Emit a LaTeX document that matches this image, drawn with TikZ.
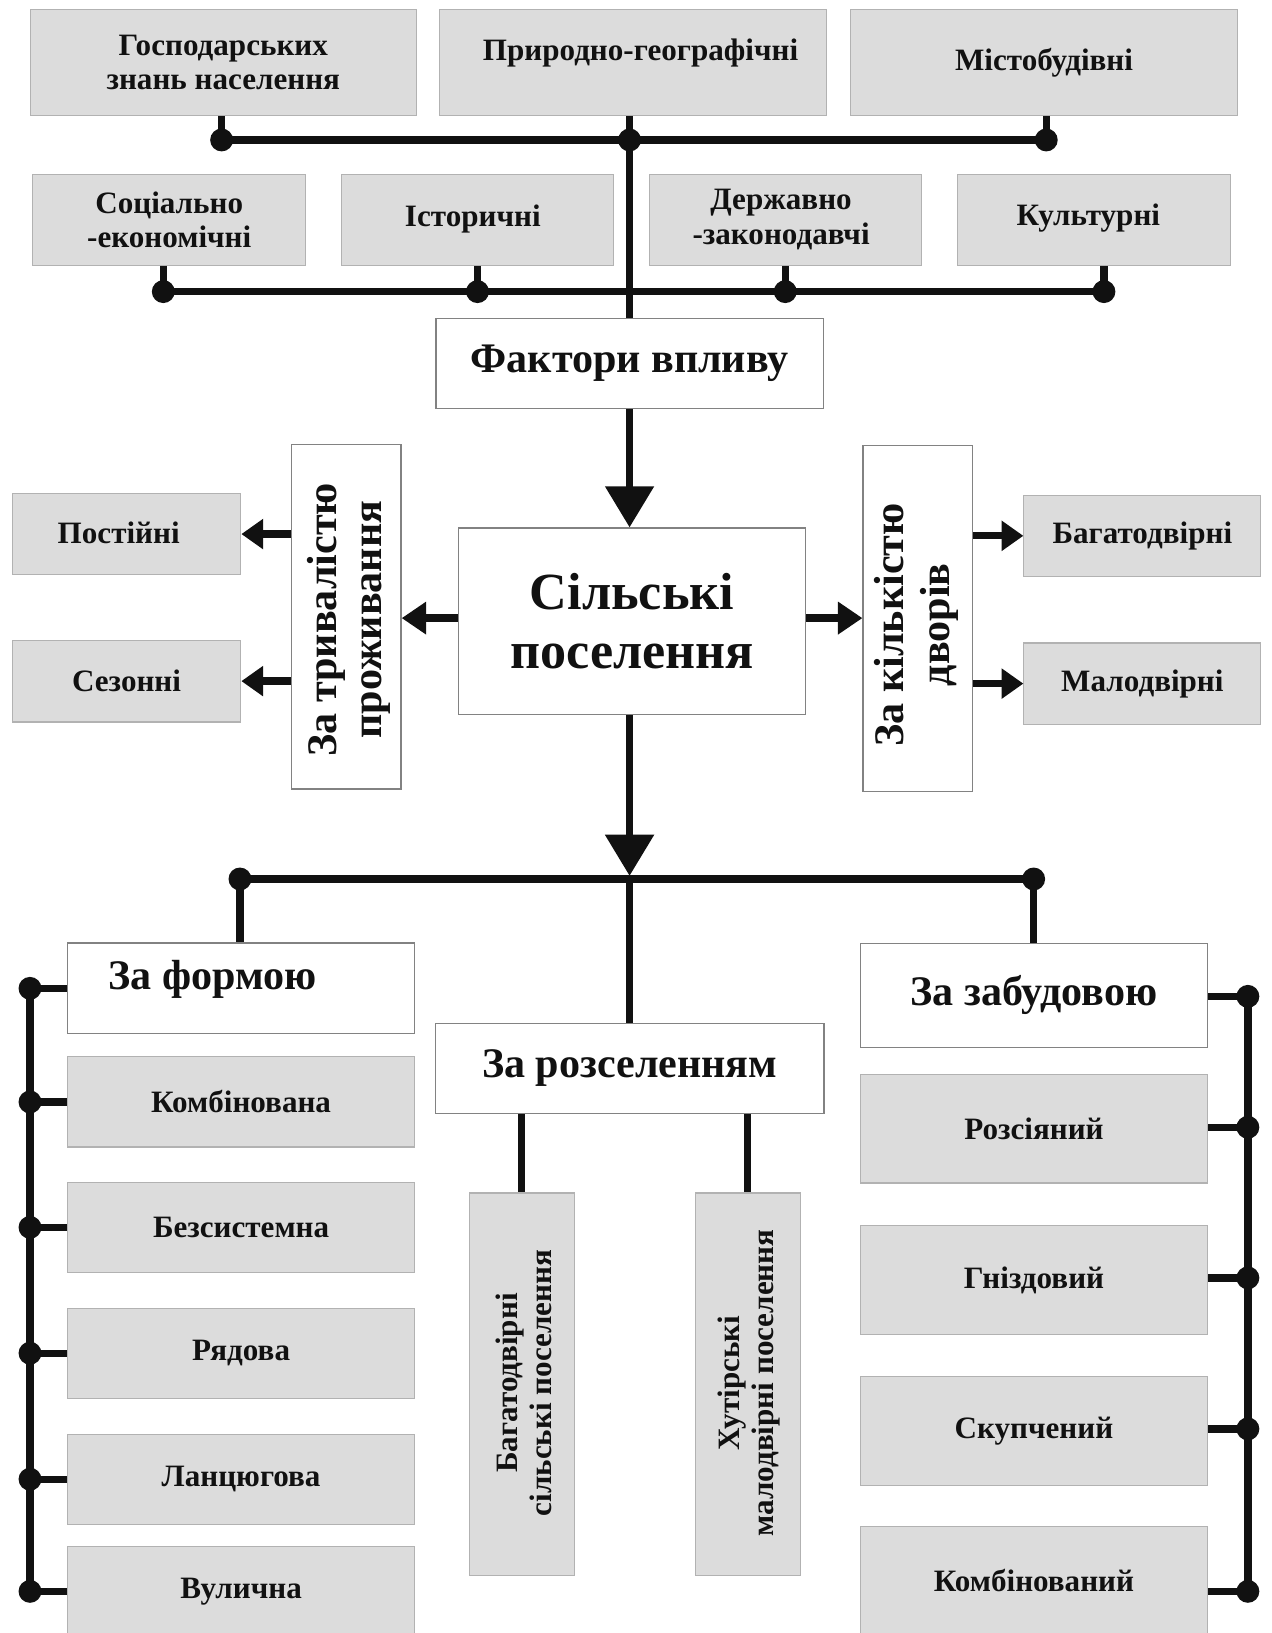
\documentclass[tikz,border=0pt]{standalone}
\usepackage{fontspec}
\setmainfont{Liberation Serif}
\usetikzlibrary{arrows.meta}
\definecolor{boxgray}{RGB}{220,220,220}
\definecolor{edgegray}{RGB}{178,178,178}
\definecolor{wedge}{RGB}{130,130,130}
\definecolor{ink}{RGB}{17,17,17}
\tikzset{
  gbox/.style={draw=edgegray, fill=boxgray, line width=0.6pt, inner sep=0pt, align=center, text=ink,
    font=\bfseries\fontsize{17}{19}\selectfont},
  wbox/.style={draw=wedge, fill=white, line width=0.7pt, inner sep=0pt, align=center, text=ink},
  gtext/.style={inner sep=0pt, align=center, text=ink, font=\bfseries\fontsize{17}{19}\selectfont},
  bigtext/.style={inner sep=0pt, align=center, text=ink, font=\bfseries\fontsize{23}{26}\selectfont},
  vtext/.style={inner sep=0pt, align=center, text=ink, rotate=90, font=\bfseries\fontsize{23}{25}\selectfont},
  vsmall/.style={inner sep=0pt, align=center, text=ink, rotate=90, font=\bfseries\fontsize{17}{18.5}\selectfont},
  lowgray/.style={gbox, font=\bfseries\fontsize{17}{19}\selectfont},
  conn/.style={draw=ink, line width=4pt},
  dot/.style={circle, fill=ink, inner sep=0pt, minimum size=0.44cm},
  bigarrow/.style={conn, -{Triangle[width=0.91cm, length=0.79cm]}},
  midarrow/.style={conn, -{Triangle[width=0.6cm, length=0.47cm]}},
  smallarrow/.style={conn, -{Triangle[width=0.56cm, length=0.42cm]}},
}
\begin{document}
\begin{tikzpicture}[x=0.02cm, y=-0.02cm]
\useasboundingbox (0,0) rectangle (1221,1568);
\clip (0,0) rectangle (1221,1568);

% ---------- top row of factors ----------
\node[gbox, minimum width=7.42cm, minimum height=2.04cm] (gosp) at (214.4,60) {Господарських\\знань населення};
\node[gbox, minimum width=7.43cm, minimum height=2.04cm] (pryr) at (608,60) {};
\node[gtext] (pryrT) at (615,51) {Природно-географічні};
\node[gbox, minimum width=7.42cm, minimum height=2.04cm] (misto) at (1002.5,60) {Містобудівні};

\node[gbox, minimum width=5.25cm, minimum height=1.75cm] (soc) at (162.5,211) {Соціально\\-економічні};
\node[gbox, minimum width=5.23cm, minimum height=1.75cm] (ist) at (458.3,211) {};
\node[gtext] (istT) at (454,210) {Історичні};
\node[gbox, minimum width=5.23cm, minimum height=1.75cm] (derzh) at (754.3,211) {};
\node[gtext] (derzhT) at (750,211) {Державно\\-законодавчі};
\node[gbox, minimum width=5.24cm, minimum height=1.75cm] (kult) at (1050.4,211) {};
\node[gtext] (kultT) at (1045,209) {Культурні};

% ---------- central boxes ----------
\node[wbox, minimum width=7.44cm, minimum height=1.74cm, font=\bfseries\fontsize{23}{26}\selectfont] (fak) at (604.5,349) {Фактори впливу};
\node[wbox, minimum width=6.67cm, minimum height=3.58cm, font=\bfseries\fontsize{28.5}{32}\selectfont] (sil) at (606.9,596.5) {Сільські\\поселення};

% ---------- bus 1 ----------
\node[dot] (d11) at (212.8,134.4) {};
\node[dot] (d12) at (604.5,134.4) {};
\node[dot] (d13) at (1004.6,134.4) {};
\draw[conn] (d11.center) -- (d13.center);
\draw[conn] (gosp.south -| d11) -- (d11.center);
\draw[conn] (misto.south -| d13) -- (d13.center);
\draw[conn] (pryr.south -| d12) -- (fak.north -| d12);

% ---------- bus 2 ----------
\node[dot] (d21) at (156.8,280) {};
\node[dot] (d22) at (458.5,280) {};
\node[dot] (d23) at (754,280) {};
\node[dot] (d24) at (1060,280) {};
\draw[conn] (d21.center) -- (d24.center);
\draw[conn] (soc.south -| d21) -- (d21.center);
\draw[conn] (ist.south -| d22) -- (d22.center);
\draw[conn] (derzh.south -| d23) -- (d23.center);
\draw[conn] (kult.south -| d24) -- (d24.center);

% ---------- arrow to settlements ----------
\draw[bigarrow] (fak.south -| d12) -- (sil.north -| d12);

% ---------- side branches ----------
\node[wbox, minimum width=2.10cm, minimum height=6.62cm] (tryv) at (332.6,592) {};
\node[vtext] (tryvT) at (335,595) {За тривалістю\\проживання};
\node[wbox, minimum width=2.10cm, minimum height=6.64cm] (kilk) at (881.2,594) {};
\node[vtext] (kilkT) at (880,600) {За кількістю\\дворів};

\node[gbox, minimum width=4.39cm, minimum height=1.55cm] (post) at (121.5,512.8) {};
\node[gtext] (postT) at (114,512) {Постійні};
\node[gbox, minimum width=4.39cm, minimum height=1.57cm] (sez) at (121.5,654) {Сезонні};
\node[gbox, minimum width=4.55cm, minimum height=1.56cm] (bagR) at (1096.9,514.5) {Багатодвірні};
\node[gbox, minimum width=4.55cm, minimum height=1.56cm] (malR) at (1096.9,656.4) {Малодвірні};

\coordinate (midL) at (440,593.5);
\coordinate (midR) at (773.7,593.5);
\draw[midarrow] (sil.west |- midL) -- (tryv.east |- midL);
\draw[midarrow] (sil.east |- midR) -- (kilk.west |- midR);
\draw[smallarrow] (tryv.west |- post) -- (post.east);
\draw[smallarrow] (tryv.west |- sez) -- (sez.east);
\draw[smallarrow] (kilk.east |- bagR) -- (bagR.west);
\draw[smallarrow] (kilk.east |- malR) -- (malR.west);

% ---------- lower part ----------
\coordinate (j) at (604.5,844);
\coordinate (jtip) at (604.5,841);
\draw[bigarrow] (sil.south -| j) -- (jtip);
\node[dot] (d31) at (230.4,844) {};
\node[dot] (d32) at (992.5,844) {};
\draw[conn] (d31.center) -- (d32.center);

\node[wbox, minimum width=6.66cm, minimum height=1.74cm] (forma) at (231.5,949) {};
\node[bigtext, anchor=base west] (formaT) at (104,949.7) {За формою};
\node[wbox, minimum width=7.46cm, minimum height=1.74cm, font=\bfseries\fontsize{23}{26}\selectfont] (rozs) at (604.6,1025.9) {За розселенням};
\node[wbox, minimum width=6.67cm, minimum height=2.00cm, font=\bfseries\fontsize{23}{26}\selectfont] (zab) at (992.8,955.6) {За забудовою};

\draw[conn] (d31.center) -- (forma.north -| d31);
\draw[conn] (d32.center) -- (zab.north -| d32);
\draw[conn] (j) -- (rozs.north -| j);

% left column
\node[lowgray, minimum width=6.66cm, minimum height=1.73cm] (f1) at (231.5,1058.1) {Комбінована};
\node[lowgray, minimum width=6.66cm, minimum height=1.73cm] (f2) at (231.5,1178.5) {Безсистемна};
\node[lowgray, minimum width=6.66cm, minimum height=1.73cm] (f3) at (231.5,1299.3) {Рядова};
\node[lowgray, minimum width=6.66cm, minimum height=1.73cm] (f4) at (231.5,1420.3) {Ланцюгова};
\node[lowgray, minimum width=6.66cm, minimum height=1.73cm] (f5) at (231.5,1528) {Вулична};

\node[dot] (lf0) at (28.8,949) {};
\node[dot] (lf1) at (28.8,1058.1) {};
\node[dot] (lf2) at (28.8,1178.5) {};
\node[dot] (lf3) at (28.8,1299.3) {};
\node[dot] (lf4) at (28.8,1420.3) {};
\node[dot] (lf5) at (28.8,1528) {};
\draw[conn] (lf0.center) -- (lf5.center);
\draw[conn] (lf0.center) -- (forma.west |- lf0);
\draw[conn] (lf1.center) -- (f1.west |- lf1);
\draw[conn] (lf2.center) -- (f2.west |- lf2);
\draw[conn] (lf3.center) -- (f3.west |- lf3);
\draw[conn] (lf4.center) -- (f4.west |- lf4);
\draw[conn] (lf5.center) -- (f5.west |- lf5);

% middle column
\node[gbox, minimum width=2.02cm, minimum height=7.35cm] (bag2) at (500.9,1329.2) {};
\node[vsmall] (bag2T) at (503,1328) {Багатодвірні\\сільські поселення};
\node[gbox, minimum width=2.01cm, minimum height=7.35cm] (khut) at (718,1329.2) {};
\node[vsmall] (khutT) at (719,1328) {Хутірські\\малодвірні поселення};
\draw[conn] (rozs.south -| bag2) -- (bag2.north);
\draw[conn] (rozs.south -| khut) -- (khut.north);

% right column
\node[lowgray, minimum width=6.67cm, minimum height=2.08cm] (z1) at (992.8,1083.9) {Розсіяний};
\node[lowgray, minimum width=6.67cm, minimum height=2.08cm] (z2) at (992.8,1229) {Гніздовий};
\node[lowgray, minimum width=6.67cm, minimum height=2.08cm] (z3) at (992.8,1374) {Скупчений};
\node[lowgray, minimum width=6.67cm, minimum height=2.08cm] (z4) at (992.8,1518) {Комбінований};

\node[dot] (rz0) at (1198.2,956.7) {};
\node[dot] (rz1) at (1198.2,1082.4) {};
\node[dot] (rz2) at (1198.2,1227) {};
\node[dot] (rz3) at (1198.2,1372) {};
\node[dot] (rz4) at (1198.2,1528) {};
\draw[conn] (rz0.center) -- (rz4.center);
\draw[conn] (zab.east |- rz0) -- (rz0.center);
\draw[conn] (z1.east |- rz1) -- (rz1.center);
\draw[conn] (z2.east |- rz2) -- (rz2.center);
\draw[conn] (z3.east |- rz3) -- (rz3.center);
\draw[conn] (z4.east |- rz4) -- (rz4.center);
\end{tikzpicture}
\end{document}
